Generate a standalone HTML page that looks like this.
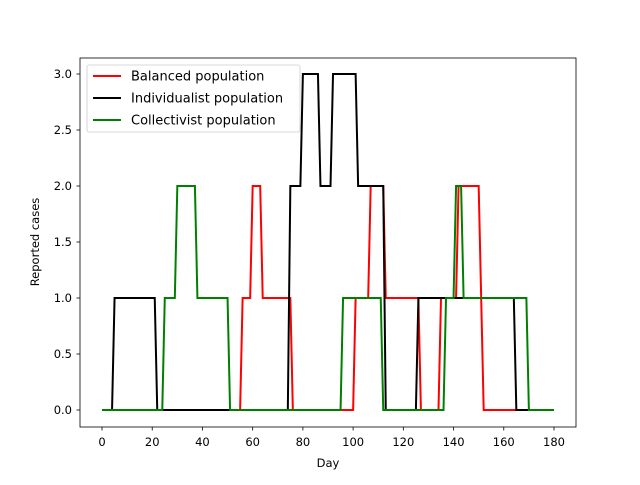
<!DOCTYPE html>
<html><head><meta charset="utf-8"><style>body{margin:0;background:#fff}svg{font-family:"DejaVu Sans","Liberation Sans",sans-serif}</style></head>
<body>
<svg id="c" width="640" height="480"></svg>
<script>
const xTicks=[0,20,40,60,80,100,120,140,160,180];
const yTicks=[0,0.5,1,1.5,2,2.5,3];
const yTickLabels=["0.0","0.5","1.0","1.5","2.0","2.5","3.0"];
const seriesNames=["Balanced population","Individualist population","Collectivist population"];
const redDays=[0,55,56,59,60,63,64,75,76,100,101,106,107,112,113,126,127,134,135,141,142,150,152,180];
const redVals=[0,0,1,1,2,2,1,1,0,0,1,1,2,2,1,1,0,0,1,1,2,2,0,0];
const blackDays=[0,4,5,21,22,74,75,79,80,86,87,91,92,101,102,112,113,125,126,164,165,180];
const blackVals=[0,0,1,1,0,0,2,2,3,3,2,2,3,3,2,2,0,0,1,1,0,0];
const greenDays=[0,24,25,29,30,37,38,50,51,95,96,111,112,136,137,140,141,143,144,169,170,180];
const greenVals=[0,0,1,1,2,2,1,1,0,0,1,1,0,0,1,1,2,2,1,1,0,0];
const svg=document.getElementById('c');const NS='http://www.w3.org/2000/svg';
const X=d=>102+d*(554-102)/180, Y=v=>410-v*112;
function mk(t,a,p){const e=document.createElementNS(NS,t);for(const k in a)e.setAttribute(k,a[k]);(p||svg).appendChild(e);return e;}
const ax=mk('rect',{x:80,y:58,width:496,height:369,fill:'none',stroke:'#000','stroke-width':0.8});


xTicks.forEach(t=>{const g=mk('g',{});


mk('line',{x1:X(t),x2:X(t),y1:427,y2:430.5,stroke:'#000','stroke-width':0.8},g);
const tx=mk('text',{x:X(t),y:446,'font-size':11.5,'text-anchor':'middle'},g);tx.textContent=t;});
yTicks.forEach((t,i)=>{const g=mk('g',{});


mk('line',{x1:76.5,x2:80,y1:Y(t),y2:Y(t),stroke:'#000','stroke-width':0.8},g);
const tx=mk('text',{x:72,y:Y(t)+4,'font-size':11.5,'text-anchor':'end'},g);tx.textContent=yTickLabels[i];});
const xl=mk('text',{x:328,y:467,'font-size':11.5,'text-anchor':'middle'});xl.textContent='Day';


const yl=mk('text',{x:0,y:0,'font-size':11.5,'text-anchor':'middle',transform:'translate(39,242) rotate(-90)'});yl.textContent='Reported cases';


const S=[[redDays,redVals,'#ff0000','balanced-line'],[blackDays,blackVals,'#000000','individualist-line'],[greenDays,greenVals,'#008000','collectivist-line']];
S.forEach(s=>{const p=mk('polyline',{points:s[0].map((d,i)=>X(d)+','+Y(s[1][i])).join(' '),fill:'none',stroke:s[2],'stroke-width':2,'stroke-linejoin':'miter'});

});
const lg=mk('g',{});


mk('rect',{x:87,y:65,width:213,height:67,rx:2,fill:'#fff','fill-opacity':0.8,stroke:'#ccc','stroke-width':0.8},lg);
S.forEach((s,i)=>{const g=mk('g',{},lg);


const y=76+i*22;mk('line',{x1:93,x2:121,y1:y,y2:y,stroke:s[2],'stroke-width':2},g);
const t=mk('text',{x:131,y:y+4.5,'font-size':13},g);t.textContent=seriesNames[i];});
</script>
</body></html>
